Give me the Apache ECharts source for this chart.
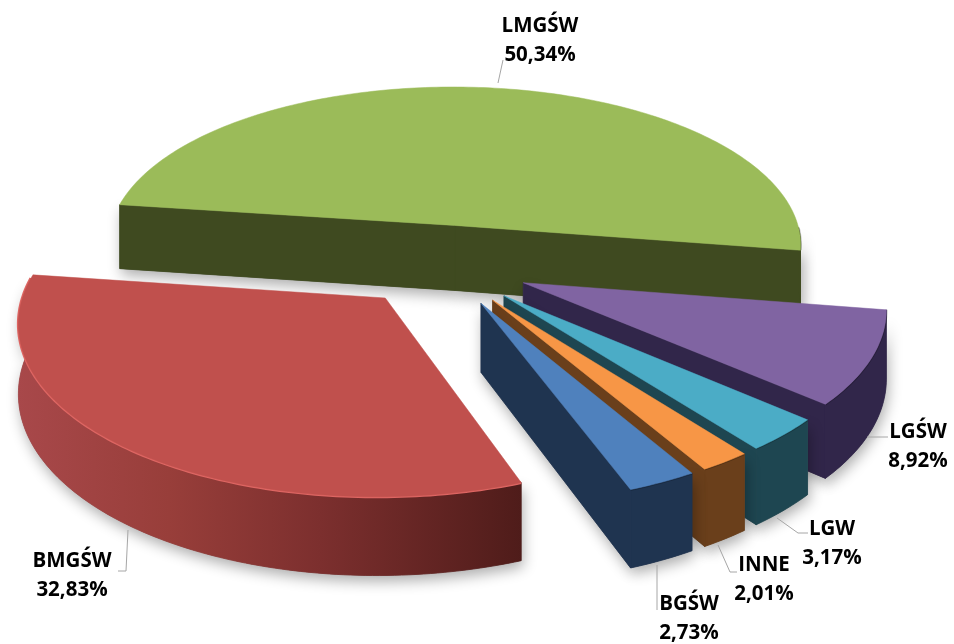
<!DOCTYPE html>
<html><head><meta charset="utf-8">
<style>html,body{margin:0;padding:0;background:#fff}#c{width:954px;height:644px}</style>
<script src="https://cdn.jsdelivr.net/npm/echarts@6/dist/echarts.min.js"></script>
</head><body><div id="c"></div>
<script>
const categories = ['LMGŚW','LGŚW','LGW','INNE','BGŚW','BMGŚW'];
const shares = [50.34,8.92,3.17,2.01,2.73,32.83];
const topColors = ['#9BBB59','#8064A2','#4BACC6','#F79646','#4F81BD','#C0504D'];
const wallColors = ['#3F4A20','#31264A','#1E4651','#6A3F1B','#1F3450','#7E2F2D'];
const labelCentres = [[540,26],[918,432],[832,529],[764,565],[689,604],[72,561]];
const leaders = [
  [[503,60],[498,83]],
  [[867,437],[888,437]],
  [[777,518],[798,533],[808,533]],
  [[718,545],[730,572],[737,572]],
  [[657,565],[657,610]],
  [[128,530],[126,571],[118,571]]
];
const view = {cx:442, cy:265, R:354, tilt:0.466, persp:0.125, depth:67, explode:0.25, start:277.8};
const total = shares.reduce((a,b)=>a+b,0);
const rad = d => d*Math.PI/180;
function project(x,y,down){
  const w = 1 - view.persp*y;
  return [view.cx + view.R*x/w, view.cy + (view.R*view.tilt*y + (down?view.depth:0))/w];
}
function renderItem(params, api){
  const i = params.dataIndex;
  const value = api.value(1), before = api.value(2);
  const a0 = view.start + before/total*360, a1 = a0 + value/total*360, mid=(a0+a1)/2;
  const ox = Math.sin(rad(mid))*view.explode, oy = -Math.cos(rad(mid))*view.explode;
  const rim = a => [ox+Math.sin(rad(a)), oy-Math.cos(rad(a))];
  const arc = [];
  for(let a=a0; a<a1; a+=1) arc.push(a);
  arc.push(a1);
  const top = [project(ox,oy,false)].concat(arc.map(a=>project(...rim(a),false)));
  const walls = [];
  const radial = a => {
    const c=[ox,oy], r=rim(a);
    return [project(...c,false),project(...r,false),project(...r,true),project(...c,true)];
  };
  if(Math.sin(rad(a0))<0) walls.push({pts:radial(a0), fill:wallColors[i]});
  if(Math.sin(rad(a1))>0) walls.push({pts:radial(a1), fill:wallColors[i]});
  const norm = a => ((a%360)+360)%360;
  const front = arc.filter(a=>norm(a)>=90 && norm(a)<=277);
  let up = null;
  if(front.length>1){
    up = front.map(a=>project(...rim(a),false));
    const dn = front.map(a=>project(...rim(a),true)).reverse();
    let fill = wallColors[i];
    if(categories[i]==='BMGŚW') fill = new echarts.graphic.LinearGradient(0,0,1,0,[
      {offset:0,color:'#A8484A'},{offset:0.3,color:'#983E3A'},{offset:0.6,color:'#7C2F2E'},{offset:1,color:'#4F1C1A'}]);
    walls.push({pts:up.concat(dn), fill});
  }
  const children = [];
  walls.forEach(w=>children.push({type:'polygon', shape:{points:w.pts}, style:{fill:'#666', shadowBlur:14, shadowColor:'rgba(0,0,0,0.32)', shadowOffsetX:2, shadowOffsetY:6}}));
  walls.forEach(w=>children.push({type:'polygon', shape:{points:w.pts}, style:{fill:w.fill, stroke:w.fill, lineWidth:0.8}}));
  if(up) children.push({type:'polyline', shape:{points:up}, style:{fill:'none', stroke: categories[i]==='BMGŚW' ? '#DE6663' : 'rgba(0,0,0,0.22)', lineWidth: categories[i]==='BMGŚW' ? 3 : 2.5}});
  children.push({type:'polygon', shape:{points:top}, style:{fill:topColors[i], stroke:topColors[i], lineWidth:0.5}});
  children.push({type:'polyline', shape:{points:leaders[i]}, style:{fill:'none', stroke:'#A6A6A6', lineWidth:1}});
  const [lx,ly] = labelCentres[i];
  const pct = value.toFixed(2).replace('.',',')+'%';
  [categories[i],pct].forEach((t,k)=>children.push({type:'text', z2:50, style:{
    text:t, x:lx, y:ly+k*29.5, align:'center', verticalAlign:'middle',
    font:'700 20.5px "Open Sans", sans-serif', fill:'#000'}}));
  return {type:'group', children};
}
let run = 0;
const rows = shares.map((v,i)=>{const r=[i,v,run]; run+=v; return r;});
const chart = echarts.init(document.getElementById('c'),null,{renderer:'canvas'});
chart.setOption({
  animation:false,
  backgroundColor:'#fff',
  series:[{type:'custom', coordinateSystem:'none', renderItem, data:rows, silent:true}]
});
</script></body></html>
